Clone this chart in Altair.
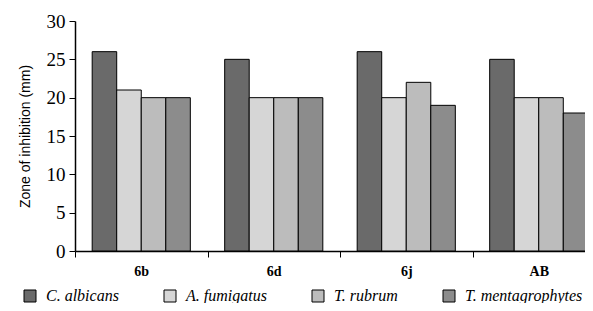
import altair as alt
import pandas as pd

groups = ["6b", "6d", "6j", "AB"]
species = ["C. albicans", "A. fumigatus", "T. rubrum", "T. mentagrophytes"]
c_albicans = [26, 25, 26, 25]
a_fumigatus = [21, 20, 20, 20]
t_rubrum = [20, 20, 22, 20]
t_mentagrophytes = [20, 20, 19, 18]
y_ticks = [0, 5, 10, 15, 20, 25, 30]
fills = ["#6a6a6a", "#d6d6d6", "#bcbcbc", "#8c8c8c"]

SERIF = "Liberation Serif"
SANS = "Liberation Sans"

rows = []
for i, g in enumerate(groups):
    for s, vals in zip(species, [c_albicans, a_fumigatus, t_rubrum, t_mentagrophytes]):
        rows.append({"group": g, "species": s, "value": vals[i]})
df = pd.DataFrame(rows)

chart = alt.Chart(df).mark_bar(stroke="black", strokeWidth=1).encode(
    x=alt.X(
        "group:N", sort=groups,
        scale=alt.Scale(paddingInner=0, paddingOuter=0, range=[0, 530]),
        axis=alt.Axis(
            title=None, labelAngle=0, tickBand="extent", tickSize=6,
            tickColor="black", domainColor="black", domainWidth=1.5,
            labelFont=SERIF, labelFontWeight="bold",
            labelFontSize=14, labelColor="black", labelPadding=7,
        ),
    ),
    xOffset=alt.XOffset(
        "species:N", sort=species,
        scale=alt.Scale(paddingInner=0, paddingOuter=0.70),
    ),
    y=alt.Y(
        "value:Q",
        scale=alt.Scale(domain=[0, 30], nice=False),
        axis=alt.Axis(
            values=y_ticks, title="Zone of inhibition (mm)", grid=False,
            tickSize=6, tickColor="black", domainColor="black", domainWidth=1.5,
            labelFont=SERIF, labelFontSize=19, labelColor="black",
            labelPadding=4, titleFont=SANS, titleFontSize=14,
            titleFontWeight="normal", titleColor="black", titlePadding=14,
        ),
    ),
    fill=alt.Fill(
        "species:N", sort=species,
        scale=alt.Scale(domain=species, range=fills),
        legend=alt.Legend(
            title=None, orient="none", direction="horizontal", columns=4,
            legendX=-53, legendY=267, padding=0,
            symbolType="square", symbolSize=144, symbolStrokeColor="black",
            symbolStrokeWidth=1, labelFont=SERIF,
            labelFontStyle="italic", labelFontSize=16, labelColor="black",
            labelOffset=8, columnPadding=43,
        ),
    ),
).properties(
    width=510, height=230,
    padding={"left": 67, "top": 13, "right": 0, "bottom": 52},
    autosize=alt.AutoSizeParams(type="none"),
).configure_view(stroke=None)

chart.save("out.html", embed_options={"renderer": "svg", "actions": False})
